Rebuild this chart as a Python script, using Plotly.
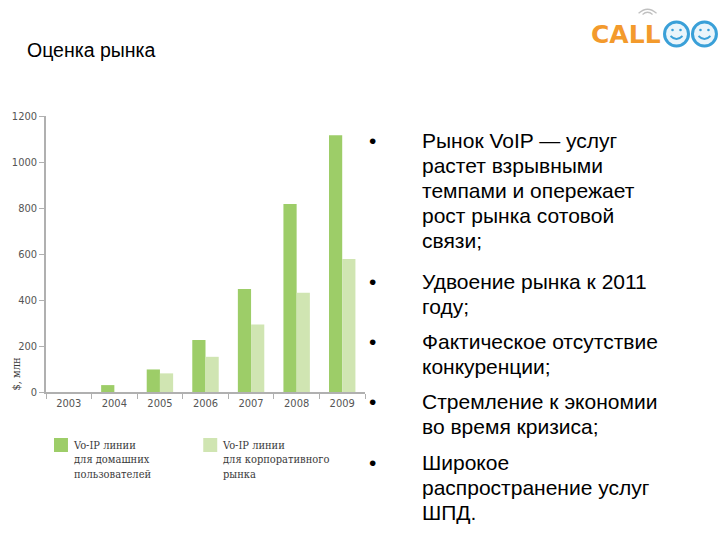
import plotly.graph_objects as go

years = ["2003", "2004", "2005", "2006", "2007", "2008", "2009"]
home_lines = [0, 30, 98, 226, 448, 817, 1116]
corp_lines = [0, 0, 81, 153, 294, 432, 578]
y_ticks = [0, 200, 400, 600, 800, 1000, 1200]
legend_names = ["Vo-IP линии<br>для домашних<br>пользователей",
                "Vo-IP линии<br>для корпоративного<br>рынка"]
bullets = [
    ["Рынок VoIP — услуг", "растет взрывными", "темпами и опережает", "рост рынка сотовой", "связи;"],
    ["Удвоение рынка к 2011", "году;"],
    ["Фактическое отсутствие", "конкуренции;"],
    ["Стремление к экономии", "во время кризиса;"],
    ["Широкое", "распространение услуг", "ШПД."],
]
bullet_first_line = [140, 281, 341, 401, 462]

DARK = "#9dcd68"
LIGHT = "#d0e5b2"

W, H = 720, 540
L, R, T, B = 45.5, 365, 116, 392


def px(x):
    return (x - L) / (R - L)


def py(y):
    return (B - y) / (B - T)


fig = go.Figure()
fig.add_trace(go.Bar(x=years, y=home_lines, marker=dict(color=DARK, line=dict(width=0)),
                     name="home", showlegend=False))
fig.add_trace(go.Bar(x=years, y=corp_lines, marker=dict(color=LIGHT, line=dict(width=0)),
                     name="corp", showlegend=False))

tick_font = dict(family="DejaVu Sans Condensed, Liberation Sans, sans-serif", size=11, color="#555555")
serif_font = dict(family="DejaVu Serif Condensed, DejaVu Serif, serif", size=11, color="#3a3a3a")
text_font = dict(family="Liberation Sans, Arial, sans-serif", size=21, color="#000000")

fig.update_layout(
    width=W, height=H,
    margin=dict(l=L, r=W - R, t=T, b=H - B, pad=0),
    paper_bgcolor="white", plot_bgcolor="white",
    barmode="group", bargap=0.42, bargroupgap=0,
    xaxis=dict(type="category", range=[-0.5, 6.5], showgrid=False, showline=True,
               linecolor="#b0b0b0", linewidth=1.5, ticks="outside", tickson="boundaries",
               ticklen=5, tickcolor="#b0b0b0", tickwidth=1, tickfont=tick_font),
    yaxis=dict(range=[0, 1200], tickvals=y_ticks, showgrid=False, showline=True,
               linecolor="#b0b0b0", linewidth=1.5, ticks="outside", ticklen=5,
               tickcolor="#b0b0b0", tickwidth=1, tickfont=tick_font, zeroline=False),
    showlegend=False,
)

ann = []
# title
ann.append(dict(xref="paper", yref="paper", x=px(24), y=py(50), xanchor="left", yanchor="middle",
                text="Оценка рынка", showarrow=False,
                font=dict(family="Liberation Sans, Arial, sans-serif", size=19.5, color="#000000")))
# y axis title
ann.append(dict(xref="paper", yref="paper", x=px(15), y=py(393), xanchor="center", yanchor="bottom",
                text="$, млн", textangle=-90, showarrow=False, font=serif_font))
# legend
shapes = []
for name, col, sx, tx in zip(legend_names, [DARK, LIGHT], [53.5, 203], [70.5, 219.5]):
    shapes.append(dict(type="rect", xref="paper", yref="paper", x0=px(sx), x1=px(sx + 14),
                       y0=py(438), y1=py(452), fillcolor=col, line=dict(width=0)))
    ann.append(dict(xref="paper", yref="paper", x=px(tx), y=py(437), xanchor="left", yanchor="top",
                    align="left", text=name, showarrow=False, font=serif_font))
# bullets
for lines, first in zip(bullets, bullet_first_line):
    ann.append(dict(xref="paper", yref="paper", x=px(367), y=py(first), xanchor="left", yanchor="middle",
                    text="•", showarrow=False, font=text_font))
    for k, line in enumerate(lines):
        ann.append(dict(xref="paper", yref="paper", x=px(420), y=py(first + 25 * k), xanchor="left",
                        yanchor="middle", text=line, showarrow=False, font=text_font))
# logo
ann.append(dict(xref="paper", yref="paper", x=px(589), y=py(34), xanchor="left", yanchor="middle",
                text="<b>CALL</b>", showarrow=False,
                font=dict(family="DejaVu Sans, sans-serif", size=25, color="#f39a2c")))
# signal arcs above the logo
for r in [5, 9]:
    shapes.append(dict(type="path", xref="paper", yref="paper",
                       path=f"M {px(648 - r)} {py(16 - r * 0.3)} Q {px(648)} {py(16 - r * 1.2)} {px(648 + r)} {py(16 - r * 0.3)}",
                       line=dict(color="#c0c0c0", width=1.2)))
for cx in [677, 705]:
    shapes.append(dict(type="circle", xref="paper", yref="paper", x0=px(cx - 12), x1=px(cx + 12),
                       y0=py(46), y1=py(22), fillcolor="#eaf5fb", line=dict(color="#3aa0d8", width=3)))
    for ex in [cx - 4, cx + 4]:
        shapes.append(dict(type="circle", xref="paper", yref="paper", x0=px(ex - 1.3), x1=px(ex + 1.3),
                           y0=py(31.3), y1=py(28.7), fillcolor="#3aa0d8", line=dict(width=0)))
    shapes.append(dict(type="path", xref="paper", yref="paper",
                       path=f"M {px(cx - 6)} {py(36)} Q {px(cx)} {py(42)} {px(cx + 6)} {py(36)}",
                       line=dict(color="#3aa0d8", width=1.8)))

fig.update_layout(annotations=ann, shapes=shapes)
fig.write_html("out.html")
